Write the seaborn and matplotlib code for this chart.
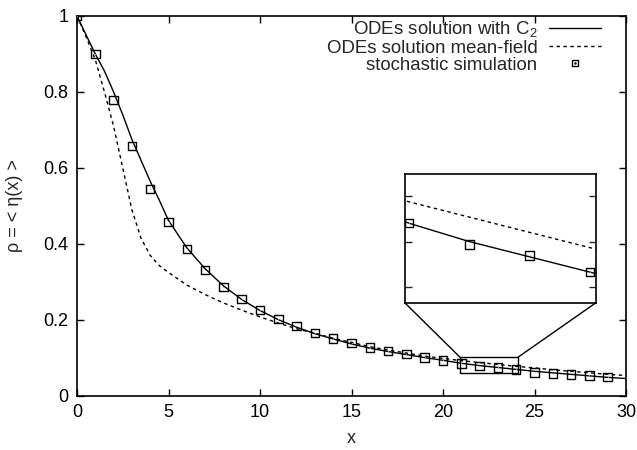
import numpy as np
import pandas as pd
import matplotlib
matplotlib.use("Agg")
import matplotlib.pyplot as plt
import seaborn as sns
from matplotlib.patches import Rectangle, ConnectionPatch
from matplotlib.lines import Line2D

# ---------------- data ----------------
x_curve = [0, 0.5, 1, 1.5, 2, 2.5, 3, 3.5, 4, 4.5, 5, 6, 7, 8, 9, 10, 11, 12, 13, 14,
           15, 16, 17, 18, 19, 20, 21, 22, 23, 24, 25, 26, 27, 28, 29, 30]
rho_c2 = [1.0, 0.95, 0.90, 0.855, 0.80, 0.74, 0.675, 0.62, 0.565, 0.515, 0.462, 0.39,
          0.335, 0.29, 0.254, 0.225, 0.201, 0.181, 0.164, 0.150, 0.137, 0.126, 0.117,
          0.109, 0.101, 0.094, 0.086, 0.080, 0.075, 0.070, 0.065, 0.061, 0.057, 0.053,
          0.049, 0.046]
rho_mf = [1.0, 0.945, 0.885, 0.80, 0.71, 0.60, 0.49, 0.415, 0.37, 0.343, 0.325, 0.292,
          0.267, 0.245, 0.226, 0.208, 0.192, 0.177, 0.165, 0.152, 0.141, 0.130, 0.121,
          0.113, 0.105, 0.099, 0.093, 0.088, 0.083, 0.078, 0.074, 0.069, 0.065, 0.061,
          0.057, 0.054]

x_sim = list(range(0, 30))
rho_sim = [1.0, 0.90, 0.779, 0.658, 0.545, 0.458, 0.387, 0.332, 0.287, 0.255, 0.226,
           0.203, 0.184, 0.166, 0.151, 0.139, 0.127, 0.118, 0.1105, 0.102, 0.094,
           0.086, 0.079, 0.0755, 0.070, 0.0623, 0.0588, 0.056, 0.054, 0.0503]

labels = ["ODEs solution with C$_2$", "ODEs solution mean-field", "stochastic simulation"]
x_label = "x"
y_label = "ρ = < η(x) >"
x_ticks = [0, 5, 10, 15, 20, 25, 30]
y_ticks = [0, 0.2, 0.4, 0.6, 0.8, 1]
y_tick_labels = ["0", "0.2", "0.4", "0.6", "0.8", "1"]
zoom_x = (20.93, 24.1)
zoom_y = (0.060, 0.102)
inset_y_ticks = [0.065, 0.080, 0.095]

df_c = pd.DataFrame({"x": x_curve, "c2": rho_c2, "mf": rho_mf})
df_s = pd.DataFrame({"x": x_sim, "rho": rho_sim})

# ---------------- style ----------------
sns.set_theme(style="ticks")
plt.rcParams["font.family"] = ["Liberation Sans", "DejaVu Sans"]
plt.rcParams["mathtext.fontset"] = "custom"
plt.rcParams["mathtext.rm"] = "Liberation Sans"
plt.rcParams["mathtext.it"] = "Liberation Sans"
FS = 13

fig = plt.figure(figsize=(6.37, 4.5), dpi=100)
ax = fig.add_axes([77 / 637, 54 / 450, 549 / 637, 380 / 450])


def draw(a, ms):
    sns.lineplot(data=df_c, x="x", y="c2", ax=a, color="black", lw=1.0,
                 estimator=None, sort=False)
    sns.lineplot(data=df_c, x="x", y="mf", ax=a, color="black", lw=1.0,
                 linestyle=(0, (2.5, 2.5)), estimator=None, sort=False)
    sns.scatterplot(data=df_s, x="x", y="rho", ax=a, marker="s", s=ms,
                    facecolor="none", edgecolor="black", linewidth=1.0, zorder=5)
    sns.scatterplot(data=df_s, x="x", y="rho", ax=a, marker=".", s=1.5,
                    color="black", linewidth=0, zorder=6)


draw(ax, 38)

ax.set_xlim(0, 30)
ax.set_ylim(0, 1)
ax.set_xticks(x_ticks)
ax.set_yticks(y_ticks)
ax.set_yticklabels(y_tick_labels)
ax.tick_params(direction="in", length=5, width=1, top=True, right=True,
               labelsize=FS, colors="black", pad=6)
ax.set_xlabel(x_label, fontsize=FS, labelpad=6)
ax.set_ylabel(y_label, fontsize=FS, labelpad=15)
for sp in ax.spines.values():
    sp.set_linewidth(1.2)
    sp.set_color("black")

# zoom rectangle
ax.add_patch(Rectangle((zoom_x[0], zoom_y[0]), zoom_x[1] - zoom_x[0],
                       zoom_y[1] - zoom_y[0], fill=False, ec="black", lw=1.0, zorder=7))

# inset
axin = fig.add_axes([404.7 / 637, 1 - 302.7 / 450, 191.3 / 637, 128.4 / 450])
draw(axin, 38)
axin.set_xlim(*zoom_x)
axin.set_ylim(*zoom_y)
axin.set_xticks([])
axin.set_yticks(inset_y_ticks)
axin.set_yticklabels([])
axin.tick_params(direction="in", length=5, width=1, left=True, right=True,
                 labelleft=False)
axin.set_xlabel("")
axin.set_ylabel("")
for sp in axin.spines.values():
    sp.set_linewidth(1.2)
    sp.set_color("black")

for xa, xb in [(zoom_x[0], 0), (zoom_x[1], 1)]:
    con = ConnectionPatch(xyA=(xa, zoom_y[1]), coordsA=ax.transData,
                          xyB=(xb, 0), coordsB=axin.transAxes,
                          color="black", lw=1.0)
    fig.add_artist(con)

# legend
h1 = Line2D([], [], color="black", lw=1.0)
h2 = Line2D([], [], color="black", lw=1.0, linestyle=(0, (2.5, 2.5)))
h3a = Line2D([], [], color="black", marker="s", ms=5, mfc="none", mew=1.0, ls="none")
h3b = Line2D([], [], color="black", marker=".", ms=1.5, ls="none")
leg = ax.legend([h1, h2, (h3a, h3b)], labels, loc="upper right", frameon=False,
                markerfirst=False, fontsize=13.4, handlelength=2.8, handletextpad=0.6,
                labelspacing=0.02, borderaxespad=0.3, bbox_to_anchor=(0.978, 1.026))
for t in leg.get_texts():
    t.set_ha("right")
leg._legend_box.align = "right"

fig.savefig("out.png", dpi=100)
